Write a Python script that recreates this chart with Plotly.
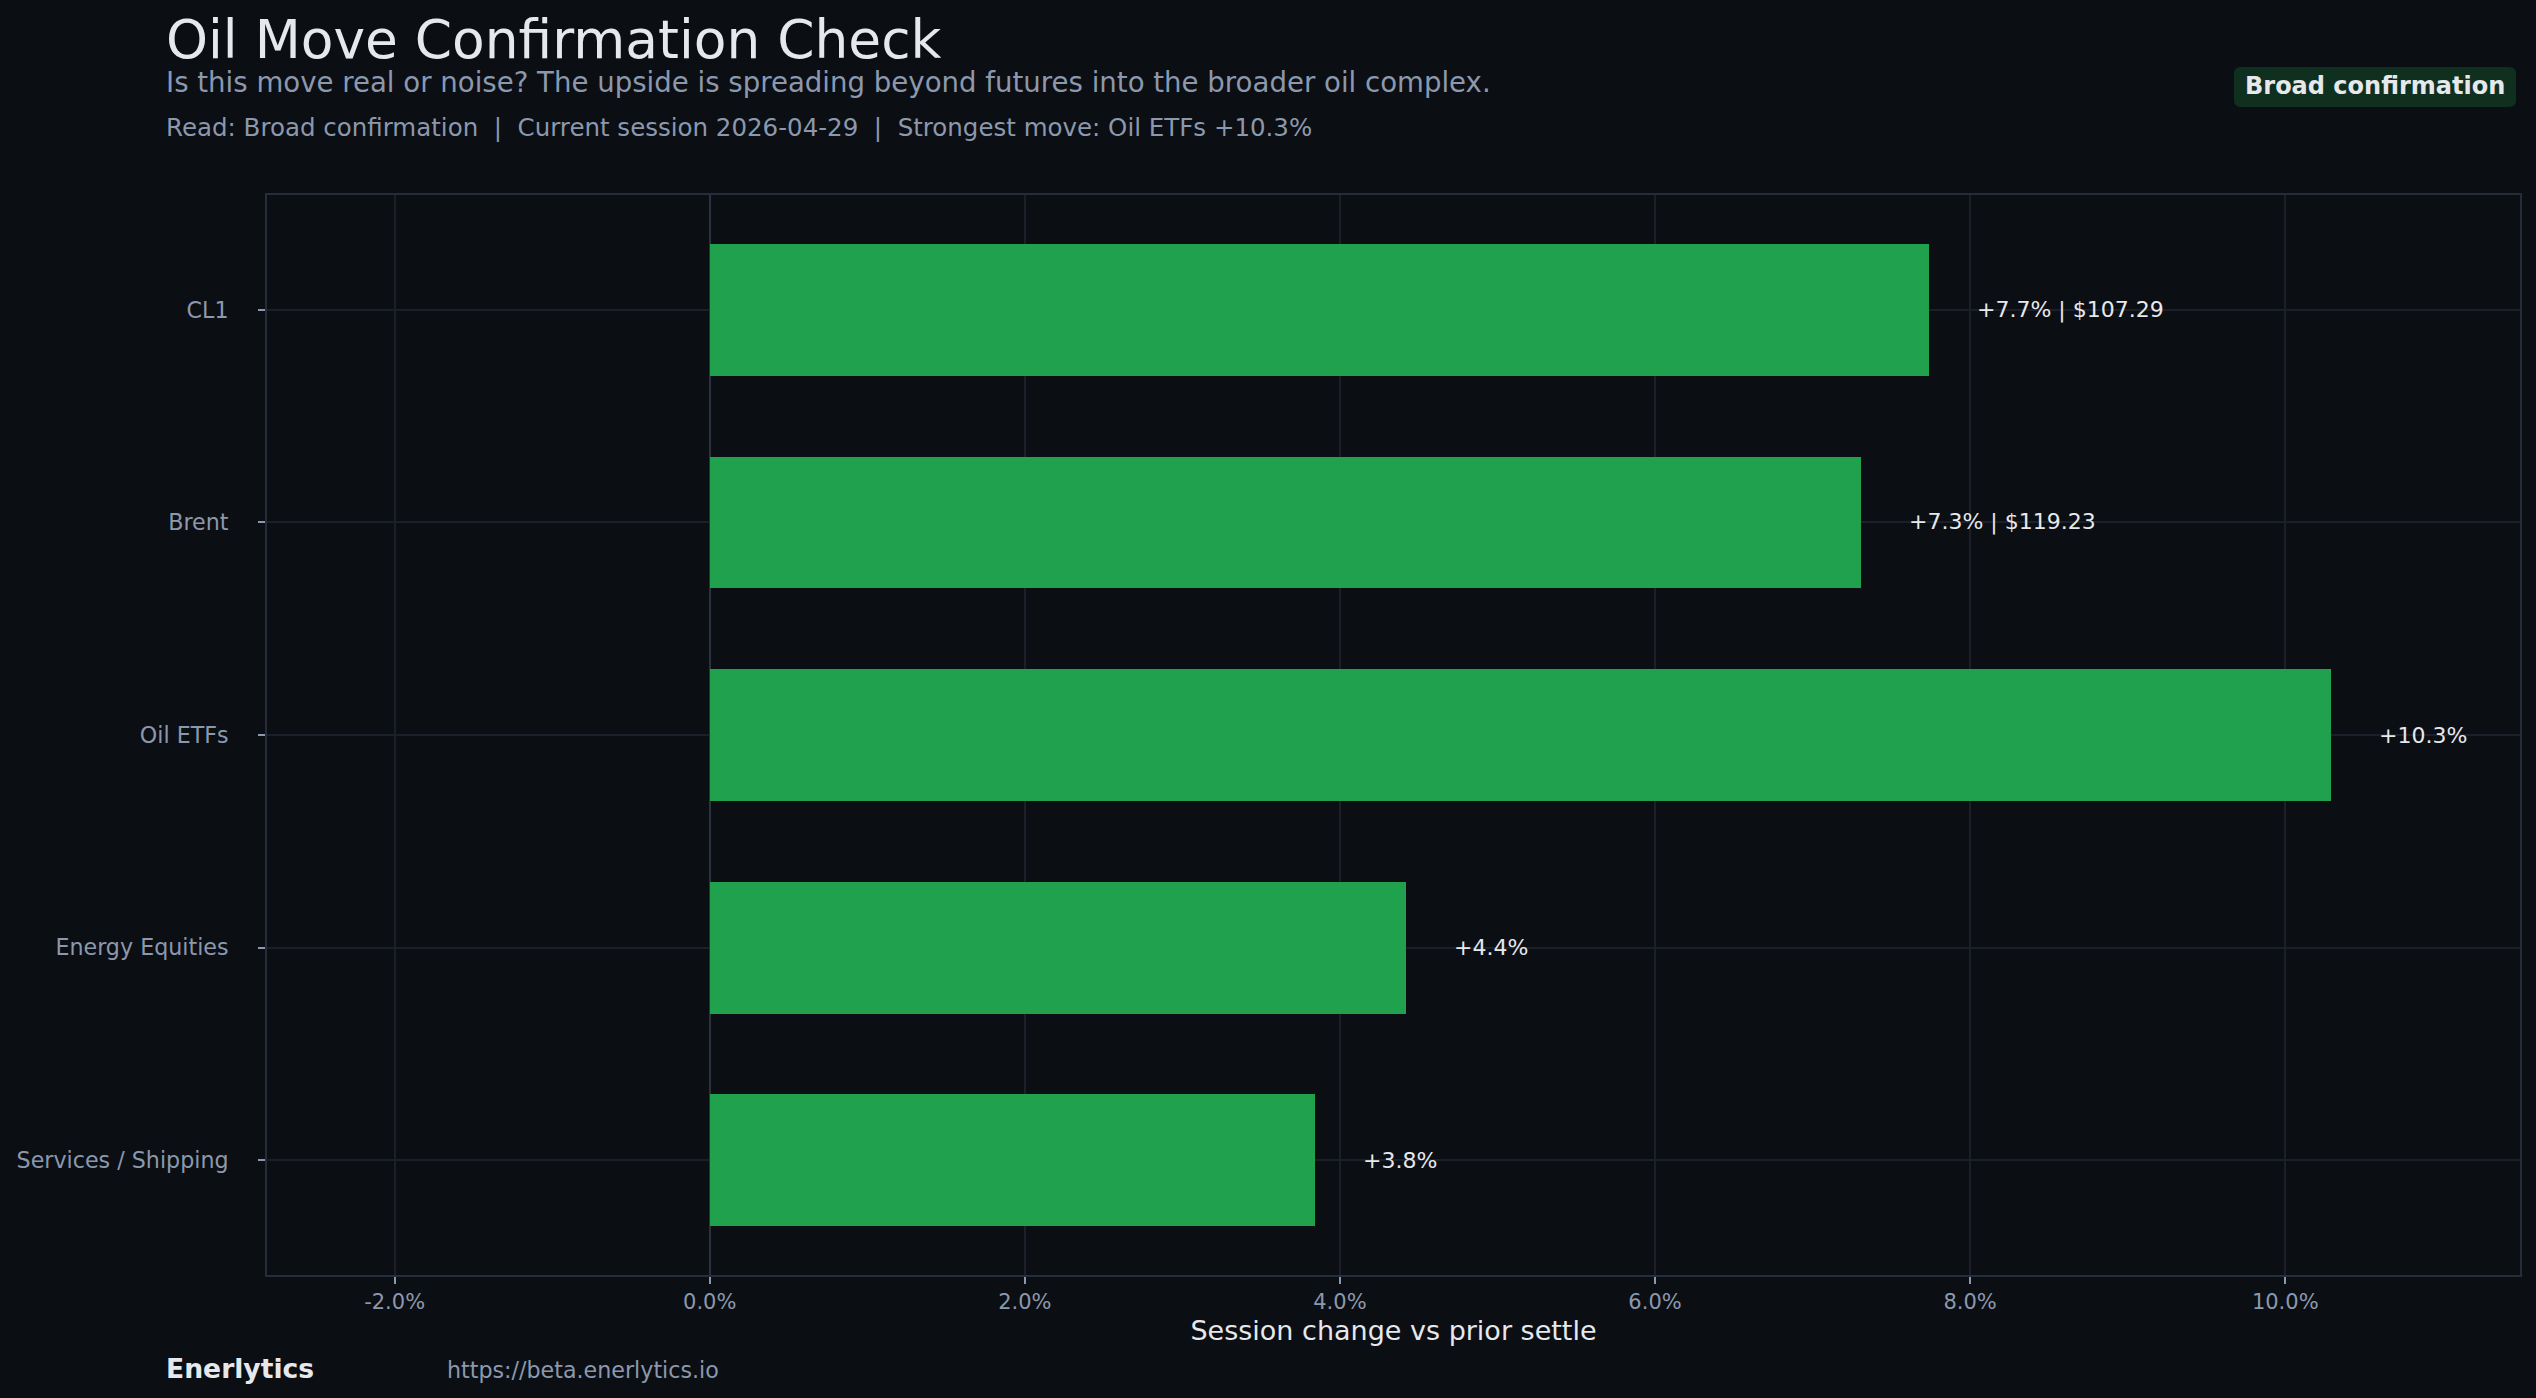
import plotly.graph_objects as go

# ---- data ----
categories = ["CL1", "Brent", "Oil ETFs", "Energy Equities", "Services / Shipping"]
changes_pct = [7.74, 7.31, 10.29, 4.42, 3.84]
settle_prices = [107.29, 119.23, None, None, None]
x_tick_vals = [-2, 0, 2, 4, 6, 8, 10]
x_tick_text = ["-2.0%", "0.0%", "2.0%", "4.0%", "6.0%", "8.0%", "10.0%"]

title_text = "Oil Move Confirmation Check"
subtitle_text = "Is this move real or noise? The upside is spreading beyond futures into the broader oil complex."
read_text = "Read: Broad confirmation\u00a0\u00a0|\u00a0\u00a0Current session 2026-04-29\u00a0\u00a0|\u00a0\u00a0Strongest move: Oil ETFs +10.3%"
badge_text = "Broad confirmation"
x_title = "Session change vs prior settle"
brand = "Enerlytics"
url = "https://beta.enerlytics.io"

# ---- styling ----
W, H = 2536, 1398
L, R, T, B = 267, 2520, 195, 1275
BG = "#0b0e13"
FONT = "DejaVu Sans"
TXT = "#e6e8ec"
MUTED = "#8b98ad"
GRID = "#1a1f29"
FRAME = "#262d3a"
BAR = "#1fa14e"


def px_x(p):
    return (p - L) / (R - L)


def px_y(p):
    return (B - p) / (B - T)


labels = []
for v, p in zip(changes_pct, settle_prices):
    s = f"{v:+.1f}%"
    if p is not None:
        s += f" | ${p:.2f}"
    labels.append(s)

fig = go.Figure()
fig.add_trace(go.Bar(
    x=changes_pct,
    y=categories,
    orientation="h",
    width=0.62,
    marker=dict(color=BAR, line=dict(width=0)),
    hoverinfo="skip",
))

annotations = []
for cat, v, lab in zip(categories, changes_pct, labels):
    annotations.append(dict(
        x=v, y=cat, xref="x", yref="y", text=lab, showarrow=False,
        xanchor="left", yanchor="middle", xshift=46,
        font=dict(family=FONT, size=22, color=TXT),
    ))


def txt(x_px, y_px, text, size, color, bold=False, xanchor="left"):
    t = f"<b>{text}</b>" if bold else text
    return dict(
        x=px_x(x_px), y=px_y(y_px), xref="paper", yref="paper", text=t,
        showarrow=False, xanchor=xanchor, yanchor="middle",
        font=dict(family=FONT, size=size, color=color),
        borderpad=0, borderwidth=0,
    )


annotations += [
    txt(166, 39, title_text, 53.4, TXT),
    txt(166, 82, subtitle_text, 27.6, MUTED),
    txt(166, 127, read_text, 24.5, MUTED),
    txt(2375, 86, badge_text, 24, TXT, bold=True, xanchor="center"),
    txt(166, 1368, brand, 26.6, TXT, bold=True),
    txt(447, 1370, url, 22.2, MUTED),
]

# rounded badge background
bx0, bx1, by0, by1, rr = 2234, 2516, 67, 107, 7
x0, x1 = px_x(bx0), px_x(bx1)
y0, y1 = px_y(by1), px_y(by0)
rx = rr / (R - L)
ry = rr / (B - T)
path = (
    f"M {x0 + rx},{y0} L {x1 - rx},{y0} Q {x1},{y0} {x1},{y0 + ry} "
    f"L {x1},{y1 - ry} Q {x1},{y1} {x1 - rx},{y1} "
    f"L {x0 + rx},{y1} Q {x0},{y1} {x0},{y1 - ry} "
    f"L {x0},{y0 + ry} Q {x0},{y0} {x0 + rx},{y0} Z"
)
shapes = [dict(type="path", path=path, xref="paper", yref="paper",
               fillcolor="#10301f", line=dict(width=0), layer="above")]

fig.update_layout(
    width=W, height=H,
    margin=dict(l=L, r=W - R, t=T, b=H - B, pad=0),
    paper_bgcolor=BG, plot_bgcolor=BG,
    showlegend=False,
    font=dict(family=FONT, color=MUTED),
    annotations=annotations,
    shapes=shapes,
    bargap=0,
)

fig.update_xaxes(
    range=[-2.81, 11.49],
    tickvals=x_tick_vals, ticktext=x_tick_text,
    tickfont=dict(family=FONT, size=21, color=MUTED),
    ticks="outside", ticklen=7, tickwidth=2, tickcolor=MUTED,
    showgrid=True, gridcolor=GRID, gridwidth=1.5,
    zeroline=True, zerolinecolor="#2a3242", zerolinewidth=2,
    showline=True, linecolor=FRAME, linewidth=2, mirror=True,
    title=dict(text=x_title, font=dict(family=FONT, size=27, color=TXT), standoff=8),
)
fig.update_yaxes(
    type="category",
    categoryorder="array", categoryarray=categories,
    range=[4.54, -0.54],
    tickfont=dict(family=FONT, size=22.2, color=MUTED),
    ticks="outside", ticklen=7, tickwidth=2, tickcolor=MUTED,
    ticklabelstandoff=25,
    showgrid=True, gridcolor=GRID, gridwidth=1.5,
    showline=True, linecolor=FRAME, linewidth=2, mirror=True,
)

fig.write_html("out.html")
